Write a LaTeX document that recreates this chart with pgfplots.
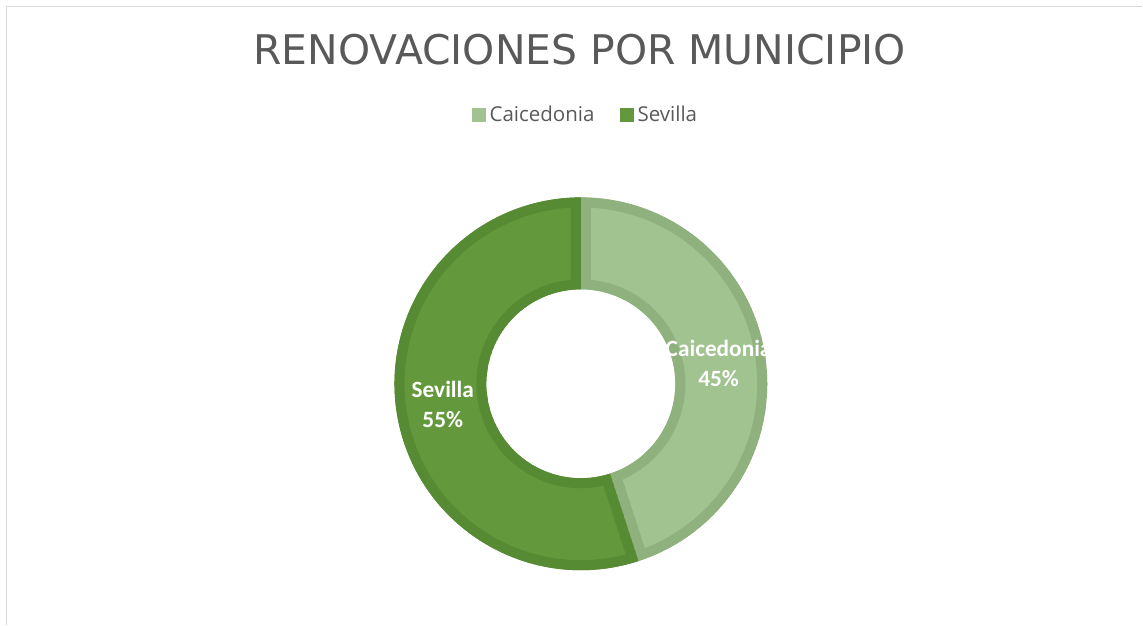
\documentclass[border=0pt]{standalone}
\usepackage{pgfplots}
\pgfplotsset{compat=1.18}
\usepackage{pgfplotstable}
\usepackage{fontspec}
\setmainfont{Open Sans}
\newfontfamily\titlefont{DejaVu Sans}
\newfontfamily\legfont{Open Sans}
\newfontfamily\labfont{Carlito}
\definecolor{caifill}{RGB}{160,195,143}
\definecolor{caiedge}{RGB}{143,177,125}
\definecolor{sevfill}{RGB}{99,153,60}
\definecolor{sevedge}{RGB}{86,138,51}
\definecolor{txtgray}{RGB}{89,89,89}
\definecolor{framegray}{RGB}{217,217,217}

\pgfplotstableread{
name value
Caicedonia 45
Sevilla 55
}\shares
\pgfplotstablegetelem{0}{value}\of\shares \let\vCai\pgfplotsretval
\pgfplotstablegetelem{1}{value}\of\shares \let\vSev\pgfplotsretval
\pgfmathsetmacro\total{\vCai+\vSev}
\pgfmathsetmacro\aStart{90}
\pgfmathsetmacro\aMid{90-\vCai/\total*360}
\pgfmathsetmacro\aEnd{\aMid-\vSev/\total*360}

\newcommand\ring[2]{([shift={(axis cs:581.2,241)}]#1:93.25pt) arc[start angle=#1,end angle=#2,radius=93.25pt] -- ([shift={(axis cs:581.2,241)}]#2:47.25pt) arc[start angle=#2,end angle=#1,radius=47.25pt] -- cycle}

\begin{document}
\begin{tikzpicture}
\begin{axis}[hide axis, x=0.5pt, y=0.5pt, xmin=0, xmax=1143, ymin=0, ymax=625, clip=false]
\path (axis cs:0,0) rectangle (axis cs:1143,625);
% frame
\draw[framegray, line width=0.65pt] (axis cs:6.8,0) -- (axis cs:6.8,618.5) -- (axis cs:1143,618.5);
% title
\node[anchor=base, inner sep=0, font=\titlefont\fontsize{20.45}{24}\selectfont, text=txtgray] at (axis cs:580,560) {RENOVACIONES POR MUNICIPIO};
% legend
\fill[caifill] (axis cs:472,503) rectangle (axis cs:486,517);
\node[anchor=base west, inner sep=0, font=\legfont\fontsize{10.25}{12}\selectfont, text=txtgray] at (axis cs:489.5,503) {Caicedonia};
\fill[sevfill] (axis cs:620,503) rectangle (axis cs:634,517);
\node[anchor=base west, inner sep=0, font=\legfont\fontsize{10.25}{12}\selectfont, text=txtgray] at (axis cs:637.5,503) {Sevilla};
% donut segments
\begin{scope}
\clip \ring{\aStart}{\aMid};
\fill[caifill] \ring{\aStart}{\aMid};
\draw[caiedge, line width=10pt] \ring{\aStart}{\aMid};
\end{scope}
\begin{scope}
\clip \ring{\aMid}{\aEnd};
\fill[sevfill] \ring{\aMid}{\aEnd};
\draw[sevedge, line width=10pt] \ring{\aMid}{\aEnd};
\end{scope}
% data labels
\node[anchor=base, inner sep=0, font=\labfont\bfseries\fontsize{11.65}{14}\selectfont, text=white] at (axis cs:719,268.3) {Caicedonia};
\node[anchor=base, inner sep=0, font=\labfont\bfseries\fontsize{11.65}{14}\selectfont, text=white] at (axis cs:719,238.3) {45\%};
\node[anchor=base, inner sep=0, font=\labfont\bfseries\fontsize{11.65}{14}\selectfont, text=white] at (axis cs:443,227.7) {Sevilla};
\node[anchor=base, inner sep=0, font=\labfont\bfseries\fontsize{11.65}{14}\selectfont, text=white] at (axis cs:443,197.7) {55\%};
\end{axis}
\end{tikzpicture}
\end{document}
